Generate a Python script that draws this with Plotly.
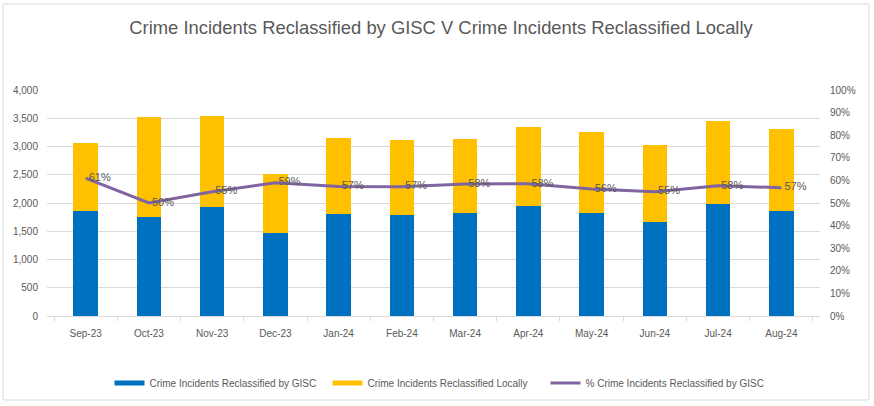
import plotly.graph_objects as go

months = ["Sep-23", "Oct-23", "Nov-23", "Dec-23", "Jan-24", "Feb-24",
          "Mar-24", "Apr-24", "May-24", "Jun-24", "Jul-24", "Aug-24"]
gisc = [1854, 1754, 1930, 1477, 1805, 1784, 1830, 1955, 1830, 1665, 1989, 1865]
local = [1206, 1766, 1613, 1036, 1344, 1335, 1301, 1388, 1425, 1360, 1465, 1437]
pct = [0.61, 0.50, 0.55, 0.59, 0.573, 0.572, 0.584, 0.585, 0.562, 0.55, 0.576, 0.568]
pct_labels = ["61%", "50%", "55%", "59%", "57%", "57%", "58%", "58%", "56%", "55%", "58%", "57%"]

BLUE = "#0070C0"
YELLOW = "#FFC000"
PURPLE = "#8064A2"
GREY = "#595959"
GRID = "#D9D9D9"
FONT = "Liberation Sans, Arial, sans-serif"

names = ["Crime Incidents Reclassified by GISC",
         "Crime Incidents Reclassified Locally",
         "% Crime Incidents Reclassified by GISC"]

fig = go.Figure()
fig.add_trace(go.Bar(x=months, y=gisc, marker=dict(color=BLUE, line=dict(width=0)),
                     name=names[0], showlegend=False))
fig.add_trace(go.Bar(x=months, y=local, marker=dict(color=YELLOW, line=dict(width=0)),
                     name=names[1], showlegend=False))
fig.add_trace(go.Scatter(x=months, y=pct, yaxis="y2", mode="lines+text",
                         line=dict(color=PURPLE, width=3),
                         text=[" " + t for t in pct_labels],
                         textposition="middle right",
                         textfont=dict(color=GREY, size=11, family=FONT),
                         name=names[2], showlegend=False, cliponaxis=False))
# legend entries
for nm, col in zip(names, [BLUE, YELLOW, PURPLE]):
    fig.add_trace(go.Scatter(x=[None], y=[None], mode="lines",
                             line=dict(color=col, width=5 if col != PURPLE else 3),
                             name=nm, showlegend=True))

fig.update_layout(
    width=874, height=406,
    barmode="stack", bargap=0.61,
    paper_bgcolor="white", plot_bgcolor="white",
    margin=dict(l=47, r=54, t=90, b=90, autoexpand=False),
    font=dict(family=FONT, color=GREY, size=10),
    title=dict(text="Crime Incidents Reclassified by GISC V Crime Incidents Reclassified Locally",
               x=441 / 874, xanchor="center", y=1 - 28/406, yanchor="middle",
               font=dict(size=18.4, color=GREY, family=FONT)),
    xaxis=dict(showgrid=False, showline=True, linecolor=GRID, linewidth=1,
               ticks="outside", tickson="boundaries", ticklen=4, tickcolor=GRID,
               ticklabelstandoff=8,
               tickfont=dict(size=10, color=GREY), automargin=False),
    yaxis=dict(range=[0, 4000], dtick=500, tickformat=",", showgrid=True,
               gridcolor=GRID, gridwidth=1, zeroline=False, showline=False,
               ticklabelstandoff=8,
               tickfont=dict(size=10, color=GREY), ticks="", automargin=False),
    yaxis2=dict(range=[0, 1], dtick=0.1, tickformat=".0%", overlaying="y",
                side="right", showgrid=False, zeroline=False, showline=False,
                ticklabelstandoff=9,
                tickfont=dict(size=10, color=GREY), automargin=False),
    legend=dict(orientation="h", x=0.5 + 3/773, xanchor="center", y=-(383-316)/226,
                yanchor="middle", font=dict(size=10, color=GREY, family=FONT),
                traceorder="normal",
                entrywidth=173, entrywidthmode="pixels", bgcolor="rgba(0,0,0,0)"),
    shapes=[dict(type="rect", xref="paper", yref="paper",
                 x0=(3-47)/773, x1=(869-47)/773,
                 y0=(316-400)/226, y1=(316-4)/226,
                 line=dict(color=GRID, width=1), fillcolor="rgba(0,0,0,0)",
                 layer="below")],
)

fig.write_html("out.html", config={"displayModeBar": False},
               post_script="document.body.style.margin='0';")
